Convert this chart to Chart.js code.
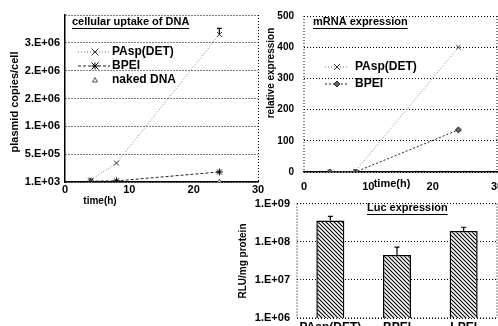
<!DOCTYPE html>
<html lang="en">
<head>
<meta charset="UTF-8">
<title>Uptake and expression</title>
<script src="https://cdn.jsdelivr.net/npm/chart.js"></script>
<style>
  html, body { margin: 0; padding: 0; width: 498px; height: 326px; overflow: hidden; background: #fff; }
  canvas { position: absolute; }
  #uptakeChart { left: 0; top: 0; }
  #mrnaChart { left: 255px; top: 0; }
  #lucChart { left: 230px; top: 190px; }
</style>
</head>
<body>
<canvas id="uptakeChart" width="270" height="207"></canvas>
<canvas id="mrnaChart" width="252" height="190"></canvas>
<canvas id="lucChart" width="275" height="150"></canvas>
<script>
// --- data ---
const hours = [4, 8, 24];
const uptakePAsp = [3.5e4, 3.4e5, 2.65e6];
const uptakePAspErr = [0, 0, 1.1e5];
const uptakeBPEI = [1.5e4, 2.0e4, 1.8e5];
const uptakeNaked = [5e3, 5e3, 5e3];
const uptakeTickLabels = ['1.E+03', '5.E+05', '1.E+06', '2.E+06', '2.E+06', '3.E+06', ''];

const mrnaPAsp = [0, 3, 400];
const mrnaBPEI = [0, 0, 135];

const lucCarriers = ['PAsp(DET)', 'BPEI', 'LPEI'];
const lucRLU = [3.6e8, 4.5e7, 1.9e8];
const lucErr = [1.0e8, 2.7e7, 0.5e8];
const lucTickLabels = ['1.E+06', '1.E+07', '1.E+08', '1.E+09'];

const FONT = "'Liberation Sans Narrow', 'Arial Narrow', 'Liberation Sans', sans-serif";
Chart.defaults.font.family = FONT;
Chart.defaults.font.weight = 'bold';
Chart.defaults.color = '#000';

const pts = (xs, ys) => xs.map((x, i) => ({ x: x, y: ys[i] }));

function drawMarker(ctx, style, x, y, r, stroke, fill) {
  ctx.save();
  ctx.setLineDash([]);
  ctx.strokeStyle = stroke;
  ctx.fillStyle = fill;
  ctx.lineWidth = 1;
  ctx.beginPath();
  if (style === 'crossRot' || style === 'star') {
    ctx.moveTo(x - r, y - r); ctx.lineTo(x + r, y + r);
    ctx.moveTo(x + r, y - r); ctx.lineTo(x - r, y + r);
  }
  if (style === 'star') {
    ctx.moveTo(x - r, y); ctx.lineTo(x + r, y);
    ctx.moveTo(x, y - r); ctx.lineTo(x, y + r);
  }
  if (style === 'triangle') {
    ctx.moveTo(x, y - r); ctx.lineTo(x + r, y + r * 0.8); ctx.lineTo(x - r, y + r * 0.8); ctx.closePath();
    ctx.fill();
  }
  if (style === 'rectRot') {
    ctx.moveTo(x, y - r); ctx.lineTo(x + r, y); ctx.lineTo(x, y + r); ctx.lineTo(x - r, y); ctx.closePath();
    ctx.fill();
  }
  ctx.stroke();
  ctx.restore();
}

// free text: panel titles, axis titles
const texts = {
  id: 'texts',
  afterDraw(chart, args, opts) {
    const ctx = chart.ctx;
    (opts.items || []).forEach(it => {
      ctx.save();
      ctx.font = it.font || ('bold 11px ' + FONT);
      ctx.fillStyle = '#000';
      ctx.textBaseline = 'middle';
      ctx.textAlign = it.align || 'left';
      ctx.translate(it.x, it.y);
      if (it.rot) ctx.rotate(it.rot);
      ctx.fillText(it.text, 0, 0);
      if (it.underline) {
        const w = ctx.measureText(it.text).width;
        const x0 = it.align === 'center' ? -w / 2 : 0;
        ctx.fillRect(x0, 6, w, 1);
      }
      ctx.restore();
    });
  }
};

// legend drawn inside the plot
const insetLegend = {
  id: 'insetLegend',
  afterDraw(chart, args, o) {
    if (o.y === undefined) return;
    const ctx = chart.ctx;
    chart.data.datasets.forEach((ds, i) => {
      const y = o.y + i * o.gap;
      ctx.save();
      if (ds.showLine !== false) {
        ctx.strokeStyle = ds.borderColor;
        ctx.lineWidth = ds.borderWidth;
        ctx.setLineDash(ds.borderDash || []);
        ctx.beginPath();
        ctx.moveTo(o.x0, y); ctx.lineTo(o.x1, y);
        ctx.stroke();
      }
      drawMarker(ctx, ds.pointStyle, o.mx, y, ds.pointRadius, ds.pointBorderColor, ds.pointBackgroundColor);
      ctx.font = o.font;
      ctx.fillStyle = '#000';
      ctx.textBaseline = 'middle';
      ctx.fillText(ds.label, o.tx, y);
      ctx.restore();
    });
  }
};

const errorBars = {
  id: 'errorBars',
  afterDatasetsDraw(chart) {
    const ctx = chart.ctx;
    const ys = chart.scales.y;
    chart.data.datasets.forEach((ds, di) => {
      if (!ds.errorPlus) return;
      chart.getDatasetMeta(di).data.forEach((el, i) => {
        const e = ds.errorPlus[i];
        if (!e) return;
        const v = ds.data[i];
        const val = typeof v === 'object' ? v.y : v;
        const top = ys.getPixelForValue(val + e);
        ctx.save();
        ctx.strokeStyle = '#000';
        ctx.lineWidth = 1.2;
        ctx.beginPath();
        ctx.moveTo(el.x, el.y); ctx.lineTo(el.x, top);
        ctx.moveTo(el.x - 2.5, top); ctx.lineTo(el.x + 2.5, top);
        ctx.stroke();
        ctx.restore();
      });
    });
  }
};

// dotted box around the plot area
const frame = {
  id: 'frame',
  beforeDatasetsDraw(chart, args, opts) {
    if (!opts.sides) return;
    const { left, right, top, bottom } = chart.chartArea;
    const ctx = chart.ctx;
    ctx.save();
    ctx.strokeStyle = '#000';
    ctx.lineWidth = 1;
    ctx.setLineDash([1, 2]);
    ctx.beginPath();
    if (opts.sides.includes('t')) { ctx.moveTo(left, top); ctx.lineTo(right, top); }
    if (opts.sides.includes('b')) { ctx.moveTo(left, bottom); ctx.lineTo(right, bottom); }
    if (opts.sides.includes('l')) { ctx.moveTo(left, top); ctx.lineTo(left, bottom); }
    if (opts.sides.includes('r')) { ctx.moveTo(right, top); ctx.lineTo(right, bottom); }
    ctx.stroke();
    ctx.restore();
  }
};

const tickFont = { size: 11, weight: 'bold' };

// ---------- cellular uptake ----------
new Chart(document.getElementById('uptakeChart'), {
  type: 'line',
  data: {
    datasets: [
      {
        label: 'PAsp(DET)', data: pts(hours, uptakePAsp), errorPlus: uptakePAspErr,
        borderColor: '#777', borderWidth: 1, borderDash: [1, 2],
        pointStyle: 'crossRot', pointRadius: 3.5, pointBorderColor: '#333', pointBackgroundColor: '#fff'
      },
      {
        label: 'BPEI', data: pts(hours, uptakeBPEI),
        borderColor: '#222', borderWidth: 1, borderDash: [3, 2],
        pointStyle: 'star', pointRadius: 3.5, pointBorderColor: '#000', pointBackgroundColor: '#000'
      },
      {
        label: 'naked DNA', data: pts(hours, uptakeNaked), showLine: false,
        borderColor: '#888', borderWidth: 1,
        pointStyle: 'triangle', pointRadius: 2.5, pointBorderColor: '#555', pointBackgroundColor: '#fff'
      }
    ]
  },
  plugins: [frame, errorBars, insetLegend, texts],
  options: {
    responsive: false, animation: false, devicePixelRatio: 1,
    layout: { padding: { left: 0, right: 12, top: 15, bottom: 0 } },
    plugins: {
      legend: { display: false }, tooltip: { enabled: false },
      insetLegend: { y: 52, gap: 14, x0: 78, x1: 110, mx: 95, tx: 112, font: 'bold 12px ' + FONT },
      texts: { items: [
        { text: 'cellular uptake of DNA', x: 72, y: 22, underline: true, font: 'bold 11px ' + FONT },
        { text: 'plasmid copies/cell', x: 15, y: 102, rot: -Math.PI / 2, align: 'center', font: 'bold 11px ' + FONT },
        { text: 'time(h)', x: 100, y: 201, align: 'center', font: 'bold 10px ' + FONT }
      ] }
    },
    scales: {
      x: {
        type: 'linear', min: 0, max: 30,
        ticks: { stepSize: 10, font: tickFont, padding: 1, maxRotation: 0 },
        grid: { drawTicks: false, color: c => (c.tick && c.tick.value === 30 ? '#000' : 'rgba(0,0,0,0)') },
        border: { display: true, color: '#000', width: 1.5, dash: [1, 2] },
        afterFit: s => { s.height = 25; }
      },
      y: {
        min: 0, max: 3e6,
        ticks: { stepSize: 5e5, font: tickFont, padding: 5, callback: (v, i) => uptakeTickLabels[i] },
        grid: { drawTicks: false, color: '#000' },
        border: { display: true, color: '#000', width: 1.5, dash: [1, 2] },
        afterFit: s => { s.width = 65; }
      }
    }
  }
});

// ---------- mRNA expression ----------
new Chart(document.getElementById('mrnaChart'), {
  type: 'line',
  data: {
    datasets: [
      {
        label: 'PAsp(DET)', data: pts(hours, mrnaPAsp),
        borderColor: '#777', borderWidth: 1, borderDash: [1, 2],
        pointStyle: 'crossRot', pointRadius: 3, pointBorderColor: '#333', pointBackgroundColor: '#fff'
      },
      {
        label: 'BPEI', data: pts(hours, mrnaBPEI),
        borderColor: '#222', borderWidth: 1, borderDash: [2, 2],
        pointStyle: 'rectRot', pointRadius: 3, pointBorderColor: '#222', pointBackgroundColor: '#666'
      }
    ]
  },
  plugins: [frame, insetLegend, texts],
  options: {
    responsive: false, animation: false, devicePixelRatio: 1,
    layout: { padding: { left: 0, right: 10, top: 15, bottom: 0 } },
    plugins: {
      legend: { display: false }, tooltip: { enabled: false },
      frame: { sides: 'lr' },
      insetLegend: { y: 67, gap: 17, x0: 70, x1: 92, mx: 82, tx: 100, font: 'bold 12px ' + FONT },
      texts: { items: [
        { text: 'mRNA expression', x: 58, y: 22, underline: true, font: 'bold 11px ' + FONT },
        { text: 'relative expression', x: 16, y: 73, rot: -Math.PI / 2, align: 'center', font: 'bold 10px ' + FONT },
        { text: 'time(h)', x: 137, y: 184, align: 'center', font: 'bold 11px ' + FONT }
      ] }
    },
    scales: {
      x: {
        type: 'linear', min: 0, max: 30,
        ticks: { stepSize: 10, font: tickFont, padding: 0, maxRotation: 0 },
        grid: { display: false },
        border: { display: true, color: '#000', width: 1.5 },
        afterFit: s => { s.height = 18; }
      },
      y: {
        min: 0, max: 500,
        ticks: { stepSize: 100, font: { size: 10, weight: 'bold' }, padding: 10 },
        grid: { drawTicks: false, color: '#000' },
        border: { display: false, dash: [1, 2] },
        afterFit: s => { s.width = 49; }
      }
    }
  }
});

// ---------- Luc expression ----------
const lucCanvas = document.getElementById('lucChart');
function hatch() {
  const c = document.createElement('canvas');
  c.width = 4; c.height = 4;
  const g = c.getContext('2d');
  g.fillStyle = '#fff'; g.fillRect(0, 0, 4, 4);
  g.strokeStyle = '#000'; g.lineWidth = 1.1;
  g.beginPath();
  g.moveTo(-1, -1); g.lineTo(5, 5);
  g.moveTo(3, -1); g.lineTo(5, 1);
  g.moveTo(-1, 3); g.lineTo(1, 5);
  g.stroke();
  return lucCanvas.getContext('2d').createPattern(c, 'repeat');
}

new Chart(lucCanvas, {
  type: 'bar',
  data: {
    labels: lucCarriers,
    datasets: [{
      label: 'Luc', data: lucRLU, errorPlus: lucErr,
      backgroundColor: hatch(), borderColor: '#000', borderWidth: 1.5,
      barPercentage: 0.42, categoryPercentage: 1
    }]
  },
  plugins: [frame, errorBars, texts],
  options: {
    responsive: false, animation: false, devicePixelRatio: 1,
    layout: { padding: { left: 0, right: 8, top: 13, bottom: 0 } },
    plugins: {
      legend: { display: false }, tooltip: { enabled: false },
      frame: { sides: 'tblr' },
      texts: { items: [
        { text: 'Luc expression', x: 137, y: 18, underline: true, font: 'bold 11px ' + FONT },
        { text: 'RLU/mg protein', x: 13, y: 71, rot: -Math.PI / 2, align: 'center', font: 'bold 10px ' + FONT }
      ] }
    },
    scales: {
      x: {
        ticks: { font: { size: 12, weight: 'bold' }, padding: 2, autoSkip: false, maxRotation: 0, minRotation: 0 },
        grid: { display: false, drawTicks: false },
        border: { display: false },
        afterFit: s => { s.height = 22; }
      },
      y: {
        type: 'logarithmic', min: 1e6, max: 1e9,
        afterBuildTicks: s => { s.ticks = [1e6, 1e7, 1e8, 1e9].map(v => ({ value: v, major: true })); },
        ticks: { font: tickFont, padding: 7, callback: (v, i) => lucTickLabels[i] },
        grid: { drawTicks: false, color: '#000' },
        border: { display: false, dash: [1, 2] },
        afterFit: s => { s.width = 67; }
      }
    }
  }
});
</script>
</body>
</html>
